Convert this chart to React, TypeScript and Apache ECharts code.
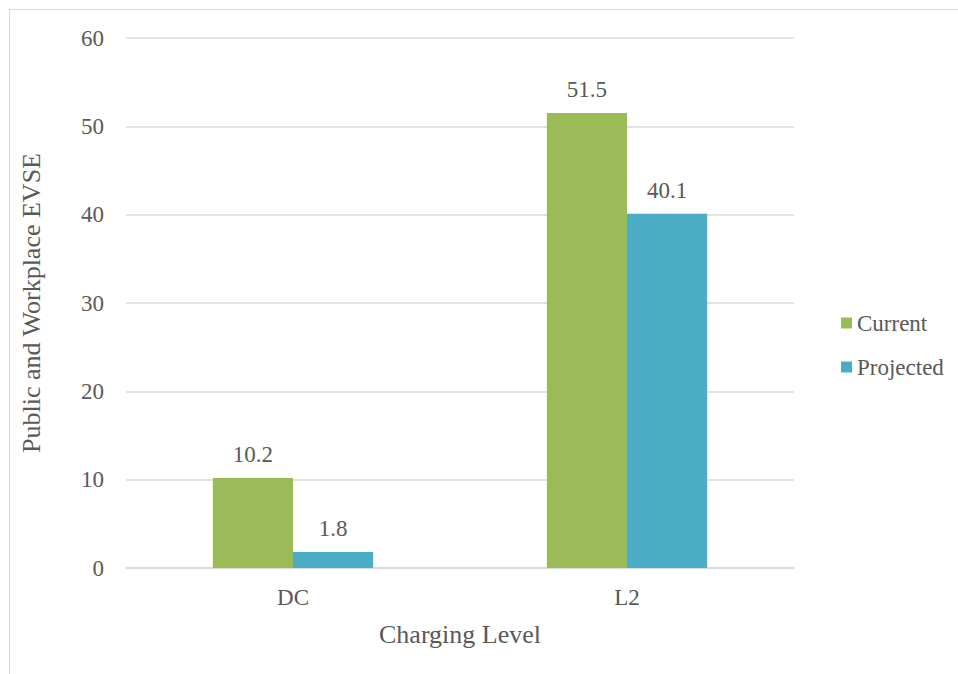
import React, { useEffect, useRef } from "react";
import * as echarts from "echarts";

const categories = ["DC", "L2"];
const currentValues = [10.2, 51.5];
const projectedValues = [1.8, 40.1];
const seriesNames = ["Current", "Projected"];
const yTitle = "Public and Workplace EVSE";
const xTitle = "Charging Level";

const FONT = "Times New Roman, Liberation Serif, DejaVu Serif, serif";
const TEXT = "#595959";
const GRID = "#d9d9d9";

export default function App() {
  const ref = useRef<HTMLDivElement>(null);
  useEffect(() => {
    if (!ref.current) return;
    const chart = echarts.init(ref.current, undefined, { renderer: "svg" });
    chart.setOption({
      animation: false,
      backgroundColor: "#ffffff",
      textStyle: { fontFamily: FONT },
      graphic: [
        {
          type: "rect",
          shape: { x: 9.5, y: 9.5, width: 1100, height: 1000 },
          style: { fill: "none", stroke: GRID, lineWidth: 1 },
          silent: true,
          z: -10,
        },
      ],
      grid: { left: 126, right: 164, top: 38, bottom: 106, containLabel: false },
      legend: {
        orient: "vertical",
        left: 836,
        top: 306,
        itemWidth: 11,
        itemHeight: 11,
        itemGap: 20,
        icon: "rect",
        textStyle: { fontFamily: FONT, fontSize: 23, color: TEXT, lineHeight: 24 },
        data: seriesNames,
      },
      xAxis: {
        type: "category",
        data: categories,
        axisLine: { lineStyle: { color: GRID, width: 1.5 } },
        axisTick: { show: false },
        axisLabel: { fontFamily: FONT, fontSize: 23, color: TEXT, margin: 18 },
        name: xTitle,
        nameLocation: "middle",
        nameGap: 53,
        nameTextStyle: { fontFamily: FONT, fontSize: 26, color: TEXT },
      },
      yAxis: {
        type: "value",
        min: 0,
        max: 60,
        interval: 10,
        axisLine: { show: false },
        axisTick: { show: false },
        splitLine: { lineStyle: { color: GRID, width: 1.5 } },
        axisLabel: { fontFamily: FONT, fontSize: 23, color: TEXT, margin: 22 },
        name: yTitle,
        nameLocation: "middle",
        nameGap: 82,
        nameTextStyle: { fontFamily: FONT, fontSize: 26, color: TEXT },
      },
      series: [
        {
          name: seriesNames[0],
          type: "bar",
          data: currentValues,
          barGap: "0%",
          barCategoryGap: "52%",
          itemStyle: { color: "#9BBB59" },
          label: {
            show: true,
            position: "top",
            distance: 12,
            fontFamily: FONT,
            fontSize: 23,
            color: TEXT,
          },
        },
        {
          name: seriesNames[1],
          type: "bar",
          data: projectedValues,
          barGap: "0%",
          barCategoryGap: "52%",
          itemStyle: { color: "#4BACC6" },
          label: {
            show: true,
            position: "top",
            distance: 12,
            fontFamily: FONT,
            fontSize: 23,
            color: TEXT,
          },
        },
      ],
    });
    return () => chart.dispose();
  }, []);
  return (
    <div
      ref={ref}
      style={{ position: "fixed", left: 0, top: 0, width: 958, height: 674 }}
    />
  );
}
